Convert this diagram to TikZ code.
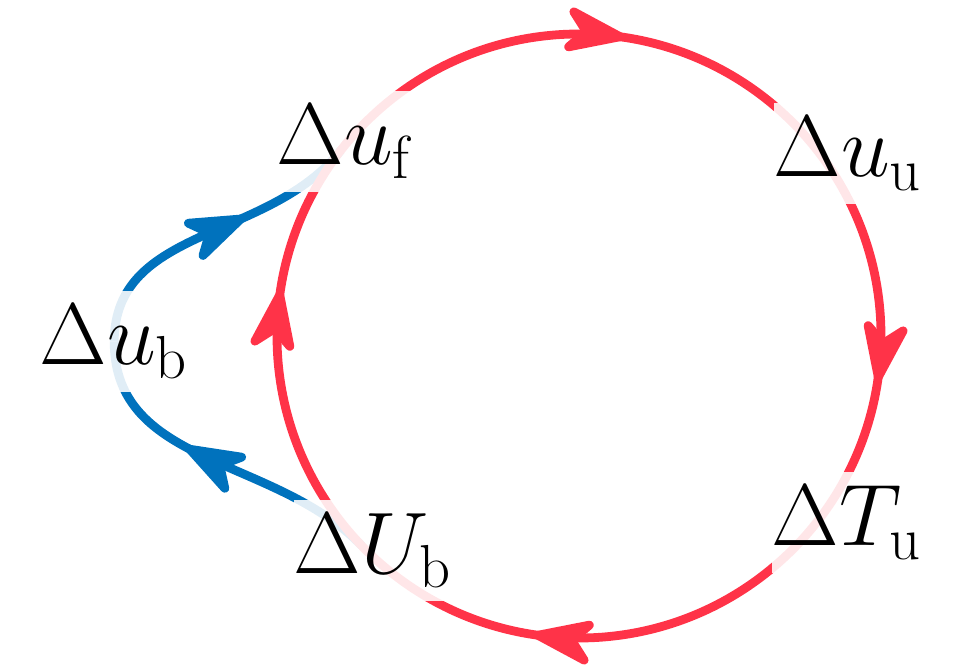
\documentclass[tikz,border=0pt]{standalone}
\usepackage{tikz}
\usetikzlibrary{arrows.meta,decorations.markings,backgrounds}

\definecolor{loopred}{RGB}{255,51,72}
\definecolor{loopblue}{RGB}{0,114,189}

\tikzset{
  qty/.style={fill=white, fill opacity=0.88, text opacity=1, inner xsep=0pt,
    inner ysep=4pt, anchor=base west, font=\fontsize{27}{32}\selectfont},
  flowtip/.tip={Stealth[length=7.6mm,width=5.4mm,inset=2.3mm,round]},
  redflow/.style={loopred, line width=2.5pt},
  blueflow/.style={loopblue, line width=2.5pt, postaction={decorate},
    decoration={markings, mark=at position #1 with {\arrow{flowtip}}}},
}

\begin{document}
\begin{tikzpicture}

\useasboundingbox (0,0) rectangle (9.73,6.64);

\coordinate (O) at (5.79,3.28);
\path (O) ++(142:3.02) coordinate (pf);
\path (O) ++(224:3.02) coordinate (pb);

\node[qty] (duf) at (2.76,4.99) {$\Delta u_\mathrm{f}$};
\node[qty] (duu) at (7.73,4.87) {$\Delta u_\mathrm{u}$};
\node[qty] (dTu) at (7.71,1.18) {$\Delta T_\mathrm{u}$};
\node[qty] (dUb) at (2.93,0.90) {$\Delta U_\mathrm{b}$};
\node[qty] (dub) at (0.39,2.99) {$\Delta u_\mathrm{b}$};

\begin{scope}[on background layer]
\draw[blueflow=0.6] (pb) to[out=134,in=-90] (dub.center);
\draw[blueflow=0.62] (dub.center) to[out=90,in=232] (pf);

\draw[redflow, postaction={decorate}, decoration={markings,
    mark=at position 0.024 with {\arrow{flowtip}},
    mark=at position 0.274 with {\arrow{flowtip}},
    mark=at position 0.524 with {\arrow{flowtip}},
    mark=at position 0.774 with {\arrow{flowtip}}}]
  (O) ++(90:3.02) arc[start angle=90, end angle=-270, radius=3.02];
\end{scope}

\end{tikzpicture}
\end{document}
